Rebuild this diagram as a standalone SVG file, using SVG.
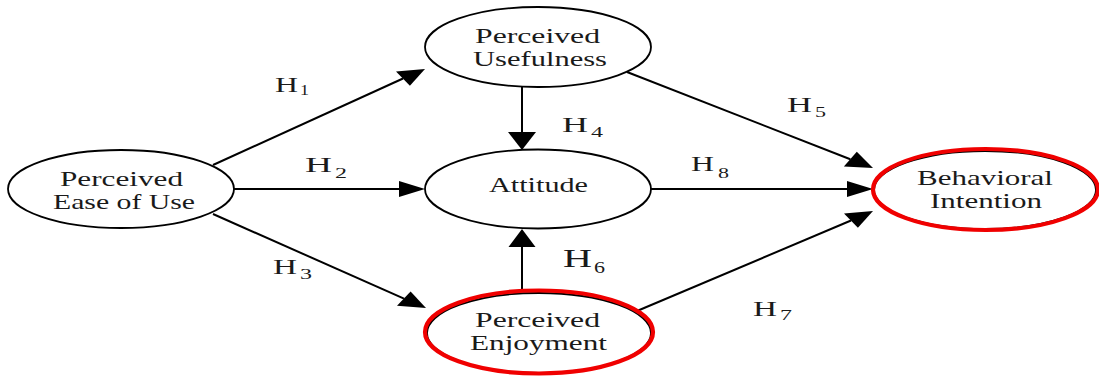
<svg xmlns="http://www.w3.org/2000/svg" width="1099" height="378" viewBox="0 0 1099 378">
<style>
.node{fill:#fff;stroke:#000;stroke-width:1.8}
.hl{fill:none;stroke:#f00000;stroke-width:4.2}
.t{font-family:"Liberation Serif","Times New Roman",serif;font-size:22px;fill:#1a1a1a}
.h{font-family:"Liberation Serif","Times New Roman",serif;font-size:22px;fill:#1a1a1a}
.sub{font-size:15px}
.edge{stroke:#000;stroke-width:2;fill:none}
.head{fill:#000}
</style>
<rect width="1099" height="378" fill="#fff"/>
<g id="connectors">
<line class="edge" x1="213" y1="165" x2="403" y2="78.5"/>
<polygon class="head" points="425,69 409.9,85.7 396,71.4"/>
<line class="edge" x1="234" y1="189" x2="400" y2="189"/>
<polygon class="head" points="425,189 399,181 399,197"/>
<line class="edge" x1="213" y1="214" x2="404" y2="298.6"/>
<polygon class="head" points="426,308 397,305.8 410.6,291.5"/>
<line class="edge" x1="522" y1="87" x2="522" y2="133"/>
<polygon class="head" points="522,150 508,132 536,132"/>
<line class="edge" x1="522" y1="291" x2="522" y2="246"/>
<polygon class="head" points="522,229 508.5,247 535.5,247"/>
<line class="edge" x1="651" y1="189" x2="848" y2="189"/>
<polygon class="head" points="873,189 847,181 847,197"/>
<line class="edge" x1="627" y1="72" x2="850.3" y2="159.2"/>
<polygon class="head" points="873,168 843.9,166.5 856.8,151.8"/>
<line class="edge" x1="637" y1="311" x2="851" y2="220.5"/>
<polygon class="head" points="873,211 857.9,227.7 844,213.4"/>
<text class="h"><tspan x="275" y="92" textLength="23" lengthAdjust="spacingAndGlyphs">H</tspan><tspan class="sub" x="300" y="95" textLength="9" lengthAdjust="spacingAndGlyphs">1</tspan></text>
<text class="h"><tspan x="305" y="172" textLength="27" lengthAdjust="spacingAndGlyphs">H</tspan><tspan class="sub" x="335" y="178" textLength="12" lengthAdjust="spacingAndGlyphs">2</tspan></text>
<text class="h"><tspan x="273" y="274" textLength="24" lengthAdjust="spacingAndGlyphs">H</tspan><tspan class="sub" x="300" y="279" textLength="12" lengthAdjust="spacingAndGlyphs">3</tspan></text>
<text class="h"><tspan x="562" y="132" textLength="26" lengthAdjust="spacingAndGlyphs">H</tspan><tspan class="sub" x="591" y="137" textLength="12" lengthAdjust="spacingAndGlyphs">4</tspan></text>
<text class="h"><tspan x="787" y="112" textLength="25" lengthAdjust="spacingAndGlyphs">H</tspan><tspan class="sub" x="815" y="117" textLength="11" lengthAdjust="spacingAndGlyphs">5</tspan></text>
<text class="h" style="font-size:25px"><tspan x="563" y="267" textLength="29" lengthAdjust="spacingAndGlyphs">H</tspan><tspan class="sub" style="font-size:16px" x="594" y="273" textLength="11" lengthAdjust="spacingAndGlyphs">6</tspan></text>
<text class="h"><tspan x="753" y="316" textLength="24" lengthAdjust="spacingAndGlyphs">H</tspan><tspan class="sub" x="780" y="320" textLength="12" lengthAdjust="spacingAndGlyphs">7</tspan></text>
<text class="h"><tspan x="691" y="171" textLength="23" lengthAdjust="spacingAndGlyphs">H</tspan><tspan class="sub" x="718" y="178" textLength="11" lengthAdjust="spacingAndGlyphs">8</tspan></text>
</g>
<g id="peou">
<ellipse class="node" cx="121" cy="189" rx="113" ry="39"/>
<text class="t" x="60" y="186" textLength="123" lengthAdjust="spacingAndGlyphs">Perceived</text>
<text class="t" x="53" y="209" textLength="142" lengthAdjust="spacingAndGlyphs">Ease of Use</text>
</g>
<g id="pu">
<ellipse class="node" cx="538" cy="47" rx="113" ry="40"/>
<text class="t" x="475" y="43" textLength="125" lengthAdjust="spacingAndGlyphs">Perceived</text>
<text class="t" x="473" y="66" textLength="134" lengthAdjust="spacingAndGlyphs">Usefulness</text>
</g>
<g id="attitude">
<ellipse class="node" cx="538" cy="189" rx="113" ry="39.5"/>
<text class="t" x="489" y="192" textLength="99" lengthAdjust="spacingAndGlyphs">Attitude</text>
</g>
<g id="pe">
<ellipse class="node" cx="539" cy="333" rx="112" ry="40"/>
<ellipse class="hl" cx="539" cy="332" rx="114" ry="41.5"/>
<text class="t" x="475" y="327" textLength="125" lengthAdjust="spacingAndGlyphs">Perceived</text>
<text class="t" x="470" y="350" textLength="137" lengthAdjust="spacingAndGlyphs">Enjoyment</text>
</g>
<g id="bi">
<ellipse class="node" cx="985" cy="190" rx="111" ry="39"/>
<ellipse class="hl" cx="985.5" cy="189.5" rx="112.5" ry="40.5"/>
<text class="t" x="917" y="185" textLength="136" lengthAdjust="spacingAndGlyphs">Behavioral</text>
<text class="t" x="930" y="208" textLength="112" lengthAdjust="spacingAndGlyphs">Intention</text>
</g>
</svg>
